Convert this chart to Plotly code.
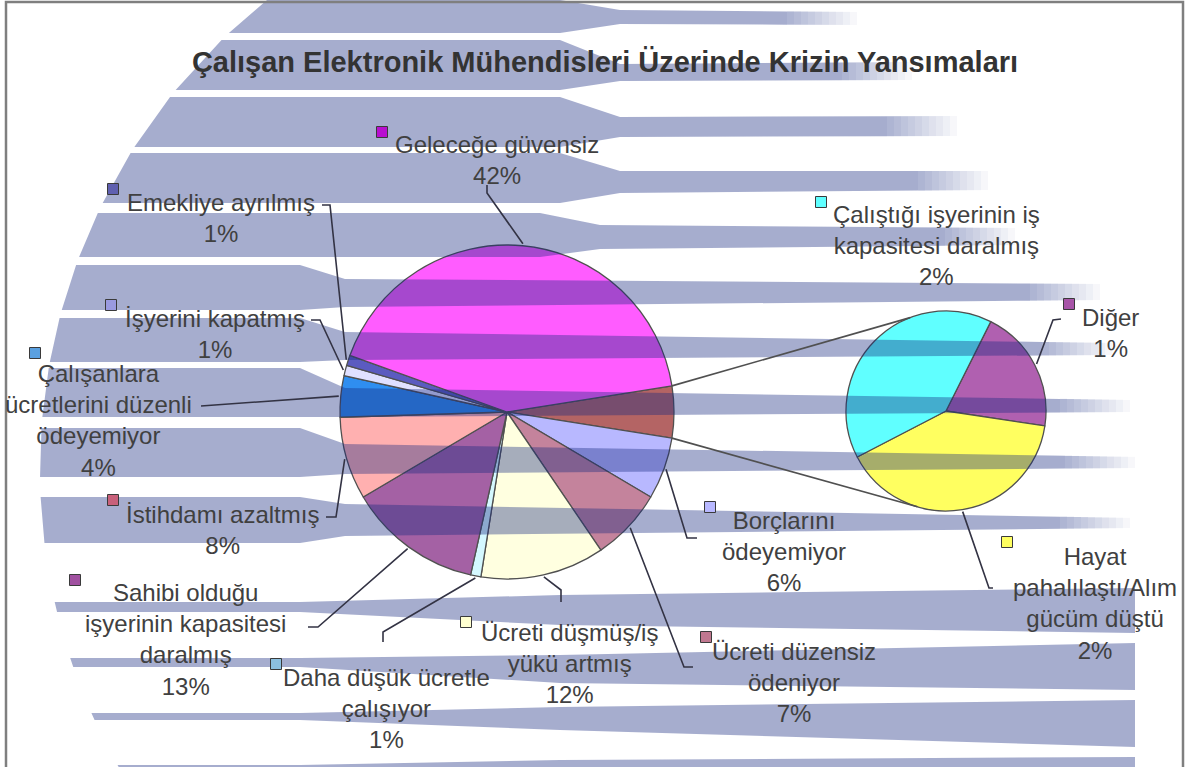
import math
import plotly.graph_objects as go

W, H = 1190, 767

# ---------------- data ----------------
main_categories = [
    "Borçlarını ödeyemiyor",
    "Ücreti düzensiz ödeniyor",
    "Ücreti düşmüş/iş yükü artmış",
    "Daha düşük ücretle çalışıyor",
    "Sahibi olduğu işyerinin kapasitesi daralmış",
    "İstihdamı azaltmış",
    "Çalışanlara ücretlerini düzenli ödeyemiyor",
    "İşyerini kapatmış",
    "Emekliye ayrılmış",
    "Geleceğe güvensiz",
]
main_values = [6, 7, 12, 1, 13, 8, 4, 1, 1, 42]

sec_categories = [
    "Diğer",
    "Hayat pahalılaştı/Alım gücüm düştü",
    "Çalıştığı işyerinin iş kapasitesi daralmış",
]
sec_values = [1, 2, 2]

other_label = "Diğer (toplam)"

main_label_text = [
    "Borçlarını<br>ödeyemiyor",
    "Ücreti düzensiz<br>ödeniyor",
    "Ücreti düşmüş/iş<br>yükü artmış",
    "Daha düşük ücretle<br>çalışıyor",
    "Sahibi olduğu<br>işyerinin kapasitesi<br>daralmış",
    "İstihdamı azaltmış",
    "Çalışanlara<br>ücretlerini düzenli<br>ödeyemiyor",
    "İşyerini kapatmış",
    "Emekliye ayrılmış",
    "Geleceğe güvensiz",
]
sec_label_text = [
    "Diğer",
    "Hayat<br>pahalılaştı/Alım<br>gücüm düştü",
    "Çalıştığı işyerinin iş<br>kapasitesi daralmış",
]

# ---------------- style ----------------
main_colors = ["#b8b8ff", "#c4839c", "#ffffe0", "#d4f8ff", "#a461a4",
               "#ffb0b0", "#2f8ef0", "#e0e0ff", "#5b5bc0", "#ff5cff"]
other_color = "#b46464"
sec_colors = ["#b060b0", "#ffff60", "#60ffff"]

main_key_colors = ["#b8b8ff", "#c07890", "#ffffd0", "#8cc0e0", "#a050a0",
                   "#c8607a", "#5aa0e0", "#9a9ae0", "#6060b0", "#b80fd0"]
sec_key_colors = ["#a855a8", "#ffff60", "#60ffff"]

TXT = "#404040"
FONT = "Liberation Sans, Arial, sans-serif"
FS = 24
STRIPE_RGB = "20,40,127"
STRIPE_A = 0.38

main_cx, main_cy, main_r = 507, 412, 167
sec_cx, sec_cy, sec_r = 946, 411, 100
other_value = sum(sec_values)
pie_vals = [other_value] + main_values
main_rot = 90 - other_value / sum(pie_vals) * 180
sec_rot = 26.6


def px(x, y):
    return x / W, 1 - y / H


def domain(cx, cy, r):
    return dict(x=[(cx - r) / W, (cx + r) / W], y=[1 - (cy + r) / H, 1 - (cy - r) / H])


def rim(cx, cy, r, rot, vals, idx, extra=2):
    tot = sum(vals)
    ang = rot + (sum(vals[:idx]) + vals[idx] / 2) / tot * 360
    a = math.radians(ang)
    return cx + (r + extra) * math.sin(a), cy - (r + extra) * math.cos(a)


def at_angle(cx, cy, r, ang):
    a = math.radians(ang)
    return cx + r * math.sin(a), cy - r * math.cos(a)


fig = go.Figure()
fig.add_trace(go.Pie(
    labels=[other_label] + main_categories, values=pie_vals, sort=False,
    direction="clockwise", rotation=main_rot, textinfo="none", hoverinfo="label+percent",
    marker=dict(colors=[other_color] + main_colors, line=dict(color="#505050", width=1.3)),
    domain=domain(main_cx, main_cy, main_r), showlegend=False,
))
fig.add_trace(go.Pie(
    labels=sec_categories, values=sec_values, sort=False,
    direction="clockwise", rotation=sec_rot, textinfo="none", hoverinfo="label+percent",
    marker=dict(colors=sec_colors, line=dict(color="#505050", width=1.3)),
    domain=domain(sec_cx, sec_cy, sec_r), showlegend=False,
))

shapes = []

# ---- background stripes (decoration) ----
# (left top, left bottom, mid top, mid bottom, right top, right bottom, right end, taper x1, taper x2)
stripes = [
    (0, 33, 10, 24, 12, 25, 857, 560, 620),
    (40, 90, 64, 81, 62, 80, 912, 560, 620),
    (97, 147, 117, 137, 116, 136, 957, 560, 620),
    (153, 203, 171, 193, 171, 190, 988, 560, 620),
    (213, 257, 225, 249, 228, 245, 1015, 540, 600),
    (265, 310, 279, 307, 284, 300, 1100, 300, 345),
    (318, 362, 332, 360, 343, 355, 1112, 300, 345),
    (368, 417, 388, 417, 400, 412, 1130, 300, 345),
    (428, 477, 444, 474, 457, 468, 1135, 300, 345),
    (497, 543, 504, 536, 518, 528, 1130, 300, 345),
    (602, 612, 595, 625, 588, 633, 1135, 300, 560),
    (658, 667, 655, 683, 643, 690, 1135, 300, 560),
    (713, 720, 707, 730, 700, 747, 1135, 300, 560),
    (765, 770, 760, 778, 757, 790, 1135, 300, 560),
]


def circ_x(y):
    d = 600 ** 2 - (y - 470) ** 2
    return 640 - math.sqrt(max(d, 0))


def poly(pts, alpha):
    p = [px(*q) for q in pts]
    path = "M " + " L ".join(f"{a:.5f},{b:.5f}" for a, b in p) + " Z"
    return dict(type="path", path=path, xref="paper", yref="paper", layer="above",
                fillcolor=f"rgba({STRIPE_RGB},{alpha})", line=dict(width=0))


for i, (lt, lb, mt, mb, rt, rb, xr, x1, x2) in enumerate(stripes):
    fade = 70 if i < 10 else 0
    xe = xr - fade
    f = (xe - x2) / (xr - x2)
    et = mt + (rt - mt) * f
    eb = mb + (rb - mb) * f
    top = [(circ_x(lt), lt), (x1, lt), (x2, mt), (xe, et)]
    bot = [(xe, eb), (x2, mb), (x1, lb), (circ_x(lb), lb)]
    shapes.append(poly(top + bot, STRIPE_A))
    if fade:
        n = 10
        for k in range(n):
            xa = xe + fade * k / n
            xb = xe + fade * (k + 1) / n
            ya_t = et + (rt - et) * k / n
            ya_b = eb + (rb - eb) * k / n
            shapes.append(poly([(xa, ya_t), (xb, ya_t), (xb, ya_b), (xa, ya_b)],
                               round(STRIPE_A * (n - k) / (n + 1), 3)))

# ---- connector lines between pies ----
tot = sum(pie_vals)
a_top = main_rot
a_bot = main_rot + other_value / tot * 360
for a_main, a_sec in [(a_top, 339), (a_bot, 196.6)]:
    p0 = at_angle(main_cx, main_cy, main_r, a_main)
    p1 = at_angle(sec_cx, sec_cy, sec_r, a_sec)
    (x0, y0), (x1, y1) = px(*p0), px(*p1)
    shapes.append(dict(type="line", xref="paper", yref="paper", x0=x0, y0=y0, x1=x1, y1=y1,
                       layer="above", line=dict(color="#505050", width=1.6)))

# ---- labels ----
# label centre (px), key square centre (px), leader elbow points (px, from label to pie)
main_layout = [
    ((784, 551), (710, 507), [(697, 538), (687, 538)]),
    ((794, 682), (706, 637), [(693, 667), (684, 667)]),
    ((569, 663), (466, 622), [(561, 602), (561, 590)]),
    ((386, 708), (276, 664), [(383, 642), (383, 632)]),
    ((185, 639), (75, 580), [(308, 627), (318, 627)]),
    ((222, 530), (113, 500), [(326, 517), (336, 517)]),
    ((98, 420), (35, 353), [(201, 406)]),
    ((215, 334), (111, 305), [(311, 320), (320, 320)]),
    ((221, 218), (113, 189), [(322, 205), (330, 205)]),
    ((497, 160), (382, 132), [(487, 185), (487, 193)]),
]
sec_layout = [
    ((1110, 333), (1069, 304), [(1061, 319), (1053, 320)]),
    ((1095, 603), (1007, 542), [(993, 588), (989, 588)]),
    ((936, 246), (821, 202), None),
]

annotations = []


def add_label(text, val, total, center, key, key_color, elbows, rimpt):
    pct = f"{round(val / total * 100)}%"
    cx, cy = px(*center)
    annotations.append(dict(text=f"{text}<br>{pct}", x=cx, y=cy, xref="paper", yref="paper",
                            xanchor="center", yanchor="middle", align="center", showarrow=False,
                            font=dict(family=FONT, size=FS, color=TXT)))
    k = 5.5
    kx0, ky0 = px(key[0] - k, key[1] + k)
    kx1, ky1 = px(key[0] + k, key[1] - k)
    shapes.append(dict(type="rect", xref="paper", yref="paper", x0=kx0, y0=ky0, x1=kx1, y1=ky1,
                       layer="above", fillcolor=key_color, line=dict(color="#3a3a3a", width=1)))
    if elbows:
        pts = [px(*p) for p in elbows + [rimpt]]
        path = "M " + " L ".join(f"{a:.5f},{b:.5f}" for a, b in pts)
        shapes.append(dict(type="path", path=path, xref="paper", yref="paper", layer="above",
                           line=dict(color="#333344", width=1.6)))


for i, (center, key, elbows) in enumerate(main_layout):
    rp = rim(main_cx, main_cy, main_r, main_rot, pie_vals, i + 1)
    add_label(main_label_text[i], main_values[i], tot, center, key, main_key_colors[i], elbows, rp)

for i, (center, key, elbows) in enumerate(sec_layout):
    rp = rim(sec_cx, sec_cy, sec_r, sec_rot, sec_values, i)
    add_label(sec_label_text[i], sec_values[i], tot, center, key, sec_key_colors[i], elbows, rp)

# ---- chart frame ----
fx0, fy1 = px(6, 2)
fx1, fy0 = px(1183, 800)
shapes.append(dict(type="rect", xref="paper", yref="paper", x0=fx0, y0=fy0, x1=fx1, y1=fy1,
                   layer="above", line=dict(color="#7f7f7f", width=2.5), fillcolor="rgba(0,0,0,0)"))

tx, ty = px(605, 62)
fig.update_layout(
    width=W, height=H,
    margin=dict(l=0, r=0, t=0, b=0),
    paper_bgcolor="white", plot_bgcolor="white",
    title=dict(text="<b>Çalışan Elektronik Mühendisleri Üzerinde Krizin Yansımaları</b>",
               x=tx, y=ty, xanchor="center", yanchor="middle", xref="paper", yref="paper",
               font=dict(family=FONT, size=29, color="#333333")),
    shapes=shapes,
    annotations=annotations,
    showlegend=False,
)

fig.write_html(
    "out.html",
    config={"displayModeBar": False},
    post_script="document.body.style.margin='0px';document.body.style.overflow='hidden';",
)
